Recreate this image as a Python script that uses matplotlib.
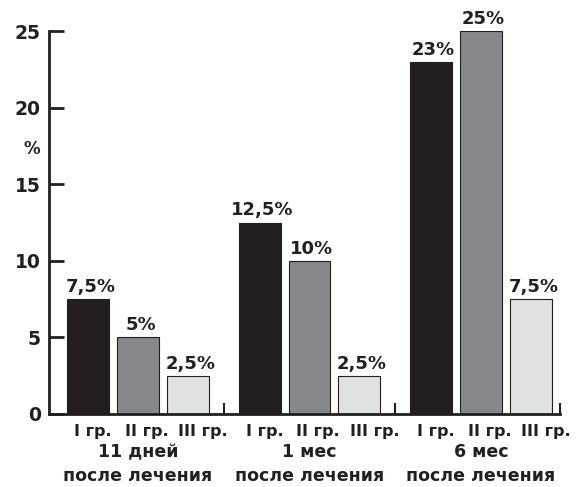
import matplotlib
matplotlib.use("Agg")
import matplotlib.pyplot as plt
import matplotlib.transforms as mtransforms
import numpy as np

plt.rcParams['font.family'] = ['DejaVu Sans']
plt.rcParams['font.weight'] = 'bold'

periods = ['11 дней', '1 мес', '6 мес']
period_note = 'после лечения'
groups = ['I гр.', 'II гр.', 'III гр.']
values = {
    'I гр.':   [7.5, 12.5, 23],
    'II гр.':  [5, 10, 25],
    'III гр.': [2.5, 2.5, 7.5],
}
colors = ['#231f20', '#87888c', '#e0e1e3']
yticks = [0, 5, 10, 15, 20, 25]

ink = '#231f20'
group_step = 3.43
bar_width = 0.84
label_shift = [-0.9, 0.17, 1.3]

fig = plt.figure(figsize=(5.8, 4.87), dpi=100)
ax = fig.add_axes([0.0845, 0.15, 0.881, 0.786])

centers = np.arange(len(periods)) * group_step
for j, g in enumerate(groups):
    xs = centers + (j - 1)
    vals = values[g]
    ax.bar(xs, vals, width=bar_width, color=colors[j], edgecolor=ink,
           linewidth=0.8, zorder=2)
    for x, v in zip(xs, vals):
        txt = f"{v:g}".replace('.', ',') + '%'
        ax.text(x + 0.05, v + 0.2, txt, ha='center', va='bottom',
                fontsize=13, fontweight='bold', color=ink, clip_on=False)

xmin = centers[0] - 1.78
xmax = centers[-1] + 1.58
ax.set_xlim(xmin, xmax)
ax.set_ylim(0, 25)

for s in ['top', 'right']:
    ax.spines[s].set_visible(False)
for s in ['left', 'bottom']:
    ax.spines[s].set_color(ink)
    ax.spines[s].set_linewidth(2)

ax.set_yticks(yticks)
ax.set_yticklabels([str(t) for t in yticks], fontsize=13.5, fontweight='bold',
                   color=ink)
ax.tick_params(axis='y', direction='in', length=11, width=2, color=ink, pad=6)

# group separators as short inward ticks on the baseline
separators = list((centers[:-1] + centers[1:]) / 2) + [xmax]
ax.set_xticks([])
ax.set_xticks(separators, minor=True)
ax.tick_params(axis='x', which='minor', direction='in', length=8, width=1.5,
               color=ink, labelbottom=False)

trans = mtransforms.blended_transform_factory(ax.transData, ax.transAxes)
for c, p in zip(centers, periods):
    for j, g in enumerate(groups):
        ax.text(c + label_shift[j], -0.047, g, transform=trans, ha='center',
                va='center', fontsize=11.5, fontweight='bold', color=ink)
    ax.text(c, -0.1, p, transform=trans, ha='center', va='center',
            fontsize=12.5, fontweight='bold', color=ink)
    ax.text(c, -0.162, period_note, transform=trans, ha='center', va='center',
            fontsize=12.5, fontweight='bold', color=ink)

ax.text(-0.033, 17.3, '%', transform=mtransforms.blended_transform_factory(
    ax.transAxes, ax.transData), ha='center', va='center', fontsize=12,
    fontweight='bold', color=ink)

fig.savefig('out.png', dpi=100)
